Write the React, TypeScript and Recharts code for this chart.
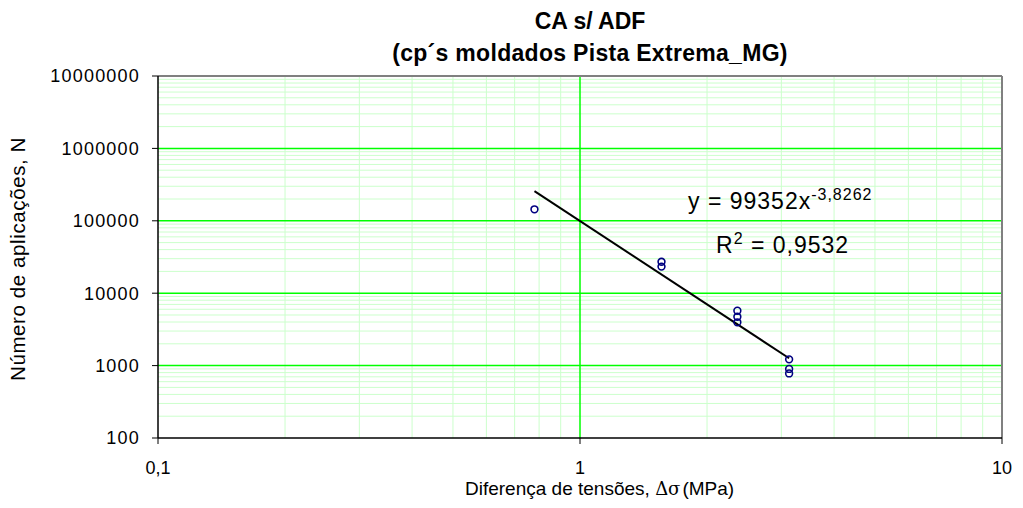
// Fatigue curve: number of load applications vs. stress difference, log-log, with power trendline.
import {
  ScatterChart,
  Scatter,
  XAxis,
  YAxis,
  ReferenceLine,
  Label,
} from 'recharts';

const stress = [0.78, 1.56, 1.56, 2.36, 2.36, 2.36, 3.13, 3.13, 3.13];
const cycles = [144000, 27200, 23300, 5730, 4730, 3960, 1220, 900, 780];

const xTicks = [0.1, 1, 10];
const yTicks = [100, 1000, 10000, 100000, 1000000, 10000000];

// trendline y = 99352 x^-3,8262 between the first and last stress level
const trendA = 99352;
const trendB = -3.8262;
const trendX = [0.78, 3.13];

const points = stress.map((s, i) => ({ x: s, y: cycles[i] }));
const trend = trendX.map((x) => ({ x, y: trendA * Math.pow(x, trendB) }));

// gridline positions: 2..9 inside each decade (minor), decades (major)
const minorX: number[] = [];
[0.1, 1].forEach((d) => { for (let k = 2; k <= 9; k++) minorX.push(+(d * k).toFixed(3)); });
const minorY: number[] = [];
[100, 1000, 10000, 100000, 1000000].forEach((d) => { for (let k = 2; k <= 9; k++) minorY.push(d * k); });
const majorY = [1000, 10000, 100000, 1000000];

const FONT = '"Liberation Sans", Arial, sans-serif';
const MINOR = '#ccffcc';
const MAJOR = '#00ff00';

const fmtX = (v: number) => String(v).replace('.', ',');

function XTitle() {
  return (
    <text x={465} y={495} textAnchor="start" fontFamily={FONT} fontSize={19} fill="#000">
      Diferença de tensões,{' '}
      <tspan fontFamily="'DejaVu Serif', serif" fontSize={18}>Δσ</tspan>
      <tspan dx={2}>(MPa)</tspan>
    </text>
  );
}

function YTitle() {
  return (
    <text
      x={25}
      y={259}
      transform="rotate(-90 25 259)"
      textAnchor="middle"
      fontFamily={FONT}
      fontSize={20.5}
      letterSpacing={0.6}
      fill="#000"
    >
      Número de aplicações, N
    </text>
  );
}

export default function App() {
  return (
    <div style={{ position: 'absolute', left: 0, top: 0, width: 1023, height: 508, background: '#fff', fontFamily: FONT }}>
      <ScatterChart width={1023} height={508} margin={{ top: 76, right: 21, bottom: 40, left: 58 }}>
        <XAxis
          type="number"
          dataKey="x"
          scale="log"
          domain={[0.1, 10]}
          allowDataOverflow
          ticks={xTicks}
          tickFormatter={fmtX}
          height={30}
          tickSize={6}
          tickMargin={17}
          axisLine={{ stroke: '#000', strokeWidth: 1.5 }}
          tickLine={{ stroke: '#000' }}
          tick={{ fontSize: 18, fill: '#000', fontFamily: FONT }}
        >
          <Label content={<XTitle />} />
        </XAxis>
        <YAxis
          type="number"
          dataKey="y"
          scale="log"
          domain={[100, 10000000]}
          allowDataOverflow
          ticks={yTicks}
          tickFormatter={(v: number) => String(v)}
          width={100}
          tickSize={6}
          tickMargin={12}
          axisLine={{ stroke: '#000', strokeWidth: 1.5 }}
          tickLine={{ stroke: '#000' }}
          tick={{ fontSize: 18, fill: '#000', fontFamily: FONT, letterSpacing: 1.2 }}
        >
          <Label content={<YTitle />} />
        </YAxis>

        {minorX.map((v) => (
          <ReferenceLine key={'mx' + v} x={v} stroke={MINOR} strokeWidth={1} />
        ))}
        {minorY.map((v) => (
          <ReferenceLine key={'my' + v} y={v} stroke={MINOR} strokeWidth={1} />
        ))}
        {majorY.map((v) => (
          <ReferenceLine key={'My' + v} y={v} stroke={MAJOR} strokeWidth={1.5} />
        ))}
        <ReferenceLine x={1} stroke={MAJOR} strokeWidth={1.5} />
        <ReferenceLine y={10000000} stroke="#808080" strokeWidth={2} />
        <ReferenceLine x={10} stroke="#808080" strokeWidth={2} />

        <Scatter
          data={trend}
          line={{ stroke: '#000', strokeWidth: 2 }}
          shape={() => null}
          isAnimationActive={false}
        />
        <Scatter
          data={points}
          isAnimationActive={false}
          shape={(p: any) => (
            <circle cx={p.cx} cy={p.cy} r={3.4} fill="none" stroke="#000080" strokeWidth={1.6} />
          )}
        />
      </ScatterChart>

      {/* title and trendline equation */}
      <svg width={1023} height={508} style={{ position: 'absolute', left: 0, top: 0, pointerEvents: 'none' }}>
        <g fontFamily={FONT} fill="#000" fontWeight="bold" fontSize={23} textAnchor="middle">
          <text x={590} y={29}>CA s/ ADF</text>
          <text x={590} y={61} letterSpacing={0.3}>(cp´s moldados Pista Extrema_MG)</text>
        </g>
        <g fontFamily={FONT} fill="#000" fontSize={23} letterSpacing={1}>
          <text x={688} y={209}>
            y = 99352x<tspan fontSize={16} dy={-9}>-3,8262</tspan>
          </text>
          <text x={716} y={253}>
            R<tspan fontSize={16} dy={-9}>2</tspan><tspan dy={9}> = 0,9532</tspan>
          </text>
        </g>
      </svg>
    </div>
  );
}
